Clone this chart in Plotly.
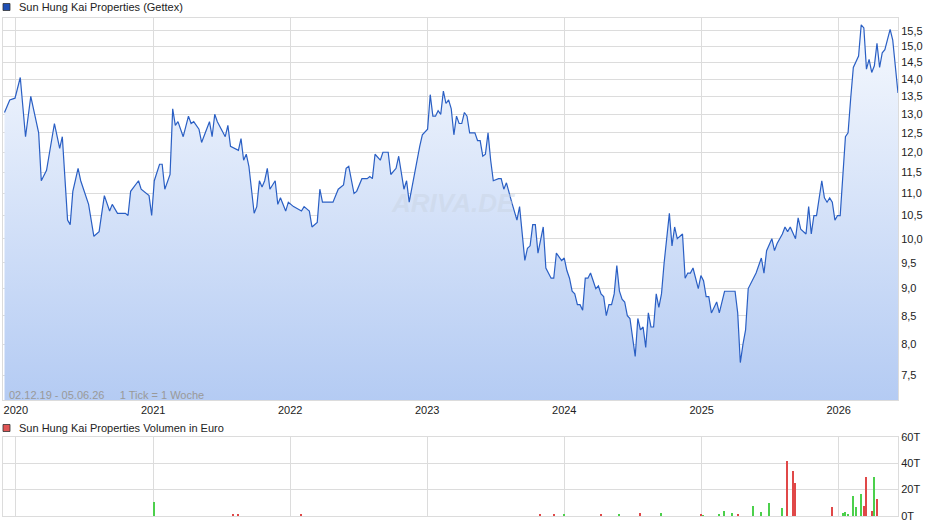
import datetime as dt
import plotly.graph_objects as go

START = dt.date(2019, 12, 2)
price_weeks = [0,2,4,6,8,10,13,14,16,19,21,22,24,25,26,28,29,32,34,36,37,38,40,41,43,46,47,48,51,52,55,56,57,59,60,61,63,64,65,66,68,70,71,72,74,75,78,79,80,81,84,85,86,89,90,91,92,93,95,96,97,98,99,100,101,103,104,105,107,108,110,113,114,116,117,119,120,121,125,127,129,130,131,133,134,136,138,139,140,141,143,144,146,147,149,150,152,153,154,156,158,159,161,162,163,164,165,166,167,168,169,170,171,172,173,174,175,176,177,179,180,181,182,183,184,185,186,188,189,190,191,193,195,196,198,199,200,201,202,203,205,206,208,209,210,212,213,214,215,216,217,218,219,220,221,222,223,224,225,226,227,228,229,230,231,232,233,234,235,236,237,238,239,240,241,242,243,244,245,246,247,248,249,250,251,253,254,255,256,258,259,260,261,262,264,265,266,267,268,269,271,272,274,276,278,279,280,281,282,283,285,286,288,289,290,292,293,294,296,297,298,299,301,302,303,305,306,307,308,309,311,312,313,314,315,316,317,318,320,321,322,323,325,326,327,328,329,330,331,332,333,334,335,337,338,340]
prices = [13.05,13.4,13.45,14.05,12.4,13.5,12.5,11.3,11.55,12.75,12.1,12.4,10.4,10.3,11.05,11.6,11.3,10.75,10.05,10.15,10.55,10.95,10.6,10.75,10.55,10.55,10.5,11.05,11.3,11.1,10.95,10.5,11.3,11.7,11.7,11.1,11.45,13.15,12.7,12.8,12.4,12.95,12.75,12.8,12.6,12.25,12.8,12.4,13.0,12.8,12.4,12.7,12.15,12.05,12.35,11.8,11.95,11.65,10.55,10.7,11.3,11.15,11.3,11.6,11.1,11.3,10.75,10.9,10.6,10.8,10.7,10.6,10.7,10.6,10.25,10.35,11.1,10.8,10.8,11.1,11.2,11.6,11.65,11.0,11.05,11.35,11.35,11.4,11.35,11.95,11.8,12.0,12.0,11.45,11.6,11.9,11.1,11.3,10.8,11.5,12.15,12.45,12.6,13.55,12.95,12.95,13.1,13.0,13.65,13.3,13.4,13.15,12.45,12.95,12.75,12.75,13.05,12.95,12.5,12.5,12.3,12.3,11.9,11.95,12.5,11.8,11.3,11.35,11.35,11.1,11.25,10.8,10.4,10.7,9.55,9.8,9.85,10.3,10.3,9.7,10.25,9.4,9.2,9.2,9.7,9.55,9.6,9.35,9.2,8.95,8.9,8.7,8.7,8.6,9.2,9.2,9.3,9.15,9.0,9.05,8.9,8.85,8.5,8.7,8.7,8.9,9.45,8.95,8.8,8.75,8.5,8.45,8.15,7.8,8.45,8.25,8.3,7.95,8.55,8.3,8.3,8.9,8.65,8.9,9.5,10.55,9.85,10.25,10.0,10.1,9.2,9.3,9.3,9.4,9.0,9.25,9.15,8.85,8.85,8.55,8.75,8.55,8.95,8.95,8.95,8.55,7.7,8.0,8.25,9.0,9.2,9.3,9.6,9.3,9.75,10.0,9.75,9.9,10.1,10.25,10.15,10.25,10.0,10.45,10.2,10.1,10.7,10.1,10.5,10.5,11.3,10.9,10.8,10.9,10.8,10.4,10.5,10.5,12.4,12.5,13.45,14.35,14.7,15.7,15.6,14.3,14.6,14.2,14.4,15.1,14.35,14.8,14.9,15.55,15.2,13.6]

vol_weeks = [57,87,89,113,204,209,213,227,234,242,250,265,266,272,274,277,279,285,288,291,296,298,300,301,315,319,320,321,323,324,326,327,328,330,331,332]
vol_k = [10.5,1.5,2,1.5,2,2,2,2,2,2.5,2.5,1.5,1,1.5,4,2.5,1.5,8,3,10,6,41.8,34,25,7,2.5,3,2,15,7,17,8,30,4,30,13]
vol_up = [1,0,0,0,0,0,1,0,1,0,1,0,1,1,1,1,0,1,1,1,1,0,0,0,0,1,1,1,1,1,1,0,0,0,1,0]

y_ticks = [7.5,8.0,8.5,9.0,9.5,10.0,10.5,11.0,11.5,12.0,12.5,13.0,13.5,14.0,14.5,15.0,15.5]
years = [2020,2021,2022,2023,2024,2025,2026]
vol_ticks = [0,20,40,60]

to_date = lambda w: START + dt.timedelta(days=7 * w)
px_dates = [to_date(w) for w in price_weeks]
v_dates = [to_date(w) for w in vol_weeks]
year_dates = [dt.date(y, 1, 1) for y in years]

fig = go.Figure()
fig.add_trace(go.Scatter(x=px_dates, y=prices, mode="lines", line=dict(color="#2a5fc4", width=1.2),
                         fill="tozeroy",
                         fillgradient=dict(type="vertical", start=7.1, stop=15.9,
                                           colorscale=[[0, "#b4cbf3"], [1, "#f6f9fe"]]),
                         xaxis="x", yaxis="y", showlegend=False, hoverinfo="skip"))
fig.add_trace(go.Bar(x=v_dates, y=vol_k, marker_color=["#4cd04c" if u else "#e04848" for u in vol_up],
                     marker_line_width=0, width=3.5 * 86400000, xaxis="x2", yaxis="y2", showlegend=False))

xr = [dt.date(2019, 11, 28), dt.date(2026, 6, 8)]
grid = "#dcdcdc"
fig.update_layout(
    width=940, height=526, margin=dict(l=3, r=42, t=18, b=10),
    paper_bgcolor="white", plot_bgcolor="white", separators=",.",
    font=dict(family="Liberation Sans, Arial", size=11, color="#222"),
    xaxis=dict(domain=[0, 1], range=xr, tickvals=year_dates, ticktext=[str(y) for y in years],
               showgrid=True, gridcolor=grid, anchor="y", ticks="", showline=True, linecolor=grid,
               mirror=True, zeroline=False, automargin=False),
    yaxis=dict(domain=[0.233, 1], type="log", range=[0.8522, 1.2022], side="right",
               tickvals=y_ticks, ticktext=[f"{v:.1f}".replace(".", ",") for v in y_ticks],
               showgrid=True, gridcolor=grid, showline=True, linecolor=grid, mirror=True, zeroline=False,
               automargin=False),
    xaxis2=dict(domain=[0, 1], range=xr, tickvals=year_dates, showticklabels=False, showgrid=True,
                gridcolor=grid, anchor="y2", showline=True, linecolor=grid, mirror=True, zeroline=False,
                automargin=False),
    yaxis2=dict(domain=[0, 0.159], range=[0, 60], side="right", tickvals=vol_ticks,
                ticktext=[f"{v}T" for v in vol_ticks], showgrid=True, gridcolor=grid,
                showline=True, linecolor=grid, mirror=True, zeroline=False, automargin=False),
    bargap=0,
    annotations=[
        dict(text="Sun Hung Kai Properties (Gettex)", xref="paper", yref="paper", x=14 / 895, y=1 + 11 / 498,
             xanchor="left", yanchor="middle", showarrow=False, font=dict(size=11)),
        dict(text="Sun Hung Kai Properties Volumen in Euro", xref="paper", yref="paper", x=14 / 895,
             y=(516 - 428) / 498, xanchor="left", yanchor="middle", showarrow=False, font=dict(size=11)),
        dict(text="02.12.19 - 05.06.26     1 Tick = 1 Woche", xref="paper", yref="paper", x=4 / 895,
             y=(516 - 395) / 498, xanchor="left", yanchor="middle", showarrow=False,
             font=dict(size=11, color="#999")),
        dict(text="<i><b>ARIVA.DE</b></i>", xref="paper", yref="paper", x=450 / 895, y=(516 - 203) / 498,
             xanchor="center", yanchor="middle", showarrow=False, font=dict(size=26, color="rgba(200,210,225,0.45)")),
    ],
    shapes=[
        dict(type="rect", xref="paper", yref="paper", x0=0, x1=7 / 895, y0=1 + 7.5 / 498, y1=1 + 14.5 / 498,
             fillcolor="#1f4fb5", line=dict(color="#333", width=0.8)),
        dict(type="rect", xref="paper", yref="paper", x0=0, x1=7 / 895, y0=(516 - 431.5) / 498,
             y1=(516 - 424.5) / 498, fillcolor="#e05555", line=dict(color="#333", width=0.8)),
    ],
)
fig.write_html("out.html", config={"displayModeBar": False},
               post_script="document.body.style.margin='0';")
